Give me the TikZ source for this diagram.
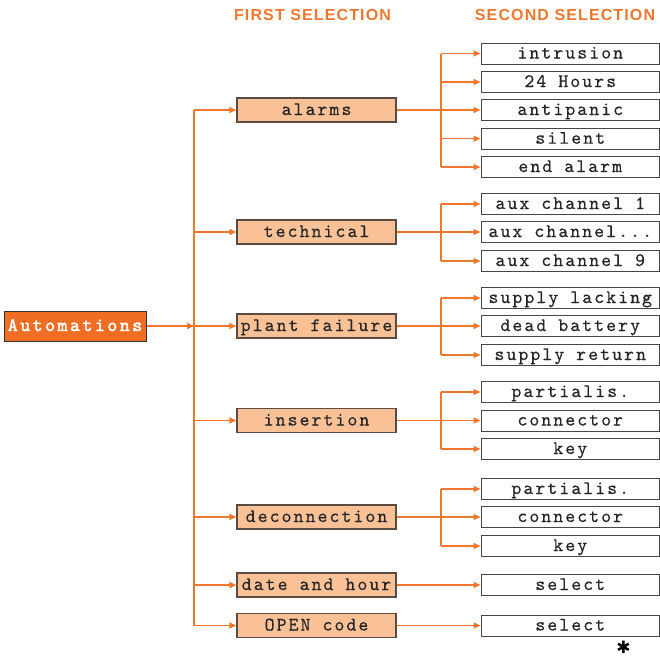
\documentclass[tikz,border=0pt]{standalone}
\usepackage{fontspec}
\usetikzlibrary{arrows.meta}
\newfontfamily\boxfont{lmmono10-regular.otf}[LetterSpace=10.5,FakeBold=0.35]
\newfontfamily\autofont{lmmono10-regular.otf}[LetterSpace=13,FakeBold=2.2]
\newfontfamily\headfont{Liberation Sans}[LetterSpace=7]
\newfontfamily\symfont{DejaVu Sans}
\definecolor{lineor}{RGB}{240,118,44}
\definecolor{autofill}{RGB}{240,110,35}
\definecolor{peach}{RGB}{250,192,150}
\definecolor{midborder}{RGB}{90,76,66}
\definecolor{rborder}{RGB}{70,70,70}
\tikzset{
  autobox/.style={draw=black!80, line width=1pt, fill=autofill, text=white, minimum width=142pt, minimum height=30pt, inner sep=0pt, text height=13pt, text depth=3pt, font=\autofont\fontsize{19}{19}\selectfont},
  midbox/.style={draw=midborder, line width=1.3pt, fill=peach, text=black!85, minimum width=159pt, minimum height=24pt, inner sep=0pt, text height=13pt, text depth=3pt, font=\boxfont\fontsize{19}{19}\selectfont},
  selbox/.style={draw=rborder, line width=1pt, fill=white, text=black!85, minimum width=178.5pt, minimum height=21pt, inner sep=0pt, text height=13pt, text depth=3pt, font=\boxfont\fontsize{19}{19}\selectfont},
  head/.style={text=lineor, inner sep=0pt, font=\headfont\bfseries\fontsize{16}{16}\selectfont},
  ln/.style={draw=lineor, line width=1.3pt},
  arr/.style={ln, -{Triangle[length=7pt,width=6pt]}}
}
\begin{document}
\begin{tikzpicture}[x=1pt,y=-1pt]
\useasboundingbox (0,0) rectangle (660,659);
% headers
\node[head] (h1) at (312.5,14.8) {FIRST SELECTION};
\node[head] (h2) at (565,14.8) {SECOND SELECTION};
% root
\node[autobox] (auto) at (75,326) {Automations};
% first selection
\node[midbox] (m1) at (316.5,110) {alarms};
\node[midbox] (m2) at (316.5,232) {technical};
\node[midbox] (m3) at (316.5,326) {plant failure};
\node[midbox] (m4) at (316.5,420.5) {insertion};
\node[midbox] (m5) at (316.5,517) {deconnection};
\node[midbox] (m6) at (316.5,585) {date and hour};
\node[midbox] (m7) at (316.5,625.5) {OPEN code};
% second selection
\node[selbox] (r11) at (570.25,53.5) {intrusion};
\node[selbox] (r12) at (570.25,82) {24 Hours};
\node[selbox] (r13) at (570.25,110) {antipanic};
\node[selbox] (r14) at (570.25,138.7) {silent};
\node[selbox] (r15) at (570.25,167) {end alarm};
\node[selbox] (r21) at (570.25,204) {aux channel 1};
\node[selbox] (r22) at (570.25,232) {aux channel...};
\node[selbox] (r23) at (570.25,261) {aux channel 9};
\node[selbox] (r31) at (570.25,298) {supply lacking};
\node[selbox] (r32) at (570.25,326) {dead battery};
\node[selbox] (r33) at (570.25,355) {supply return};
\node[selbox] (r41) at (570.25,392) {partialis.};
\node[selbox] (r42) at (570.25,420.5) {connector};
\node[selbox] (r43) at (570.25,449) {key};
\node[selbox] (r51) at (570.25,489) {partialis.};
\node[selbox] (r52) at (570.25,517) {connector};
\node[selbox] (r53) at (570.25,546) {key};
\node[selbox] (r61) at (570.25,585) {select};
\node[selbox] (r71) at (570.25,625.5) {select};
\node[inner sep=0pt, font=\symfont\fontsize{17}{17}\selectfont] (star) at (623.5,647.5) {✱};
% trunk
\coordinate (tx) at (194,0);
\coordinate (sx) at (441,0);
\draw[arr] (auto) -- (auto -| tx);
\draw[ln] (m1 -| tx) -- (m7 -| tx);
\foreach \m in {m1,m2,m3,m4,m5,m6,m7}{
  \draw[arr] (\m -| tx) -- (\m.west);
}
% alarms
\draw[arr] (m1) -- (r13);
\draw[ln] (r11 -| sx) -- (r15 -| sx);
\foreach \r in {r11,r12,r14,r15}{\draw[arr] (\r -| sx) -- (\r.west);}
% technical
\draw[arr] (m2) -- (r22);
\draw[ln] (r21 -| sx) -- (r23 -| sx);
\foreach \r in {r21,r23}{\draw[arr] (\r -| sx) -- (\r.west);}
% plant failure
\draw[arr] (m3) -- (r32);
\draw[ln] (r31 -| sx) -- (r33 -| sx);
\foreach \r in {r31,r33}{\draw[arr] (\r -| sx) -- (\r.west);}
% insertion
\draw[arr] (m4) -- (r42);
\draw[ln] (r41 -| sx) -- (r43 -| sx);
\foreach \r in {r41,r43}{\draw[arr] (\r -| sx) -- (\r.west);}
% deconnection
\draw[arr] (m5) -- (r52);
\draw[ln] (r51 -| sx) -- (r53 -| sx);
\foreach \r in {r51,r53}{\draw[arr] (\r -| sx) -- (\r.west);}
% date and hour, OPEN code
\draw[arr] (m6) -- (r61);
\draw[arr] (m7) -- (r71);
\end{tikzpicture}
\end{document}
